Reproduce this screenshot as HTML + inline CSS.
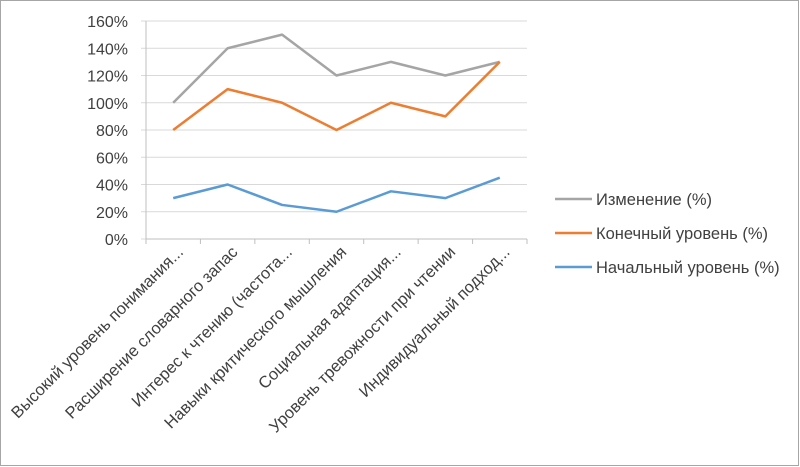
<!DOCTYPE html>
<html><head><meta charset="utf-8"><style>
html,body{margin:0;padding:0;background:#fff;}
svg{display:block;font-family:"Liberation Sans",sans-serif;}
</style></head><body>
<svg id="chart" width="800" height="467" viewBox="0 0 800 467">
<rect x="0.5" y="0.5" width="798" height="465" fill="#fff" stroke="#a6a6a6"/>
<g id="grid"></g><g id="yt"></g><g id="xt"></g><g id="series"></g><g id="legend"></g>
</svg>
<script>
const categories=["Высокий уровень понимания...","Расширение словарного запас","Интерес к чтению (частота...","Навыки критического мышления","Социальная адаптация...","Уровень тревожности при чтении","Индивидуальный подход..."];
const changeVals=[100,140,150,120,130,120,130];
const finalVals=[80,110,100,80,100,90,130];
const initialVals=[30,40,25,20,35,30,45];
const yTicks=[0,20,40,60,80,100,120,140,160];
const seriesNames=["Изменение (%)","Конечный уровень (%)","Начальный уровень (%)"];
const seriesColors=["#a5a5a5","#ed7d31","#5b9bd5"];
const NS="http://www.w3.org/2000/svg";
const X0=146,X1=527,Y0=239,Y1=21;
const band=(X1-X0)/categories.length;
function xs(i){return X0+band*(i+0.5);}
function ys(v){return Y0-(v/160)*(Y0-Y1);}
function mk(t,a,p){const e=document.createElementNS(NS,t);for(const k in a)e.setAttribute(k,a[k]);p.appendChild(e);return e;}
const grid=document.getElementById('grid'),yt=document.getElementById('yt'),xt=document.getElementById('xt');
yTicks.forEach(v=>{
 const l=mk('line',{x1:X0-5,x2:X1,y1:ys(v),y2:ys(v),stroke:'#d9d9d9','stroke-width':1},grid);
 
 
 const t=mk('text',{x:X0-18,y:ys(v)+6,'text-anchor':'end','font-size':16,fill:'#404040'},yt);
 t.textContent=v+'%';
 
 
});
const ax=mk('line',{x1:X0,x2:X0,y1:Y1,y2:Y0,stroke:'#bfbfbf'},grid);


const bx=mk('line',{x1:X0,x2:X1,y1:Y0,y2:Y0,stroke:'#bfbfbf'},grid);


for(let i=0;i<=categories.length;i++){
 const tk=mk('line',{x1:X0+band*i,x2:X0+band*i,y1:Y0,y2:Y0+5,stroke:'#bfbfbf'},grid);
 
 
}
categories.forEach((c,i)=>{
 const x=xs(i)+11,y=Y0+14;
 const t=mk('text',{x:x,y:y,'text-anchor':'end','font-size':16.5,fill:'#404040',transform:`rotate(-45 ${x} ${y})`},xt);
 t.textContent=c;
 
 
});
const sg=document.getElementById('series');
[changeVals,finalVals,initialVals].forEach((vals,s)=>{
 const p=mk('polyline',{points:vals.map((v,i)=>xs(i)+','+ys(v)).join(' '),fill:'none',stroke:seriesColors[s],'stroke-width':2.5,'stroke-linejoin':'round'},sg);
 
 
});
const lg=document.getElementById('legend');
seriesNames.forEach((n,i)=>{
 const y=199+i*34;
 const l=mk('line',{x1:555,x2:592,y1:y,y2:y,stroke:seriesColors[i],'stroke-width':2.5},lg);
 
 
 const t=mk('text',{x:596,y:y+6,'font-size':16.5,fill:'#404040'},lg);
 t.textContent=n;
 
 
});
</script>
</body></html>
